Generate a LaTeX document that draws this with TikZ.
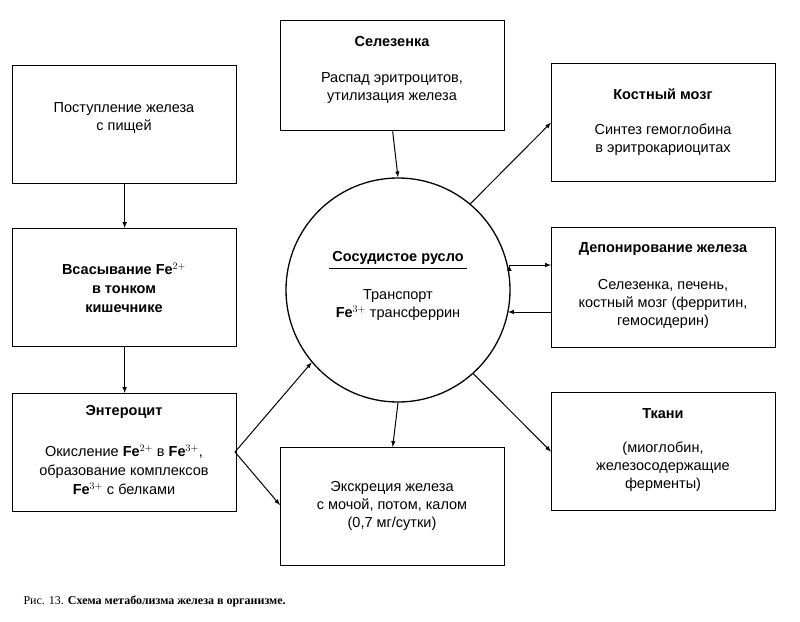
\documentclass[tikz,border=0pt]{standalone}
\usepackage{fontspec}
\setmainfont{Liberation Sans}
\newfontfamily\capfont{Liberation Serif}
\begin{document}
\begin{tikzpicture}[x=1pt,y=-1pt,
  box/.style={draw,line width=1.3pt,minimum width=224pt,minimum height=118pt,anchor=north west,inner sep=0pt},
  txt/.style={align=center,font=\fontsize{14.5}{18}\selectfont},
  arr/.style={-latex,line width=1pt}]
\useasboundingbox (0,0) rectangle (800,621);
\node[box] (food) at (12,65) {};
\node[txt] at (124,118) {Поступление железа\\с пищей};
\node[box] (abs) at (12,228) {};
\node[txt,font=\bfseries\fontsize{14.5}{19}\selectfont] at (124,288) {Всасывание Fe$^{2+}$\\в тонком\\кишечнике};
\node[box] (ent) at (12,393) {};
\node[txt,font=\bfseries\fontsize{14.5}{18}\selectfont] at (124,412) {Энтероцит};
\node[txt,font=\fontsize{14.5}{19}\selectfont] at (124,470) {Окисление \textbf{Fe}$^{2+}$ в \textbf{Fe}$^{3+}$,\\образование комплексов\\\textbf{Fe}$^{3+}$ с белками};
\node[box,minimum height=110pt] (sel) at (280,20) {};
\node[txt,font=\bfseries\fontsize{14.5}{18}\selectfont] at (392,42) {Селезенка};
\node[txt] at (392,88) {Распад эритроцитов,\\утилизация железа};
\node[box] (exc) at (280,447) {};
\node[txt] at (392,506) {Экскреция железа\\с мочой, потом, калом\\(0,7 мг/сутки)};
\node[box] (bm) at (551,63) {};
\node[txt,font=\bfseries\fontsize{14.5}{18}\selectfont] at (663,94) {Костный мозг};
\node[txt] at (663,140) {Синтез гемоглобина\\в эритрокариоцитах};
\node[box,minimum height=120pt] (dep) at (551,227) {};
\node[txt,font=\bfseries\fontsize{14.5}{18}\selectfont] at (663,249) {Депонирование железа};
\node[txt] at (663,304) {Селезенка, печень,\\костный мозг (ферритин,\\гемосидерин)};
\node[box] (tk) at (551,392) {};
\node[txt,font=\bfseries\fontsize{14.5}{18}\selectfont] at (663,414) {Ткани};
\node[txt] at (663,467) {(миоглобин,\\железосодержащие\\ферменты)};
\node[draw,circle,line width=1.3pt,minimum size=224pt,inner sep=0pt] (c) at (398,290) {};
\node[txt,font=\bfseries\fontsize{14.5}{18}\selectfont] (cs) at (398,258) {Сосудистое русло};
\draw[line width=1pt] (cs.south west) -- (cs.south east);
\node[txt] at (398,305) {Транспорт\\\textbf{Fe}$^{3+}$ трансферрин};
\draw[arr] (food.south) -- (abs.north);
\draw[arr] (abs.south) -- (ent.north);
\draw[arr] (sel.south) -- (c.north);
\draw[arr] (c.south) -- (exc.north);
\draw[arr] (c.50) -- (bm.west);
\draw[arr] (c.west |- 0,265) ++(224,0) coordinate (a1);
\draw[arr] (509,265) -- (dep.west |- 0,265);
\draw[arr] (dep.west |- 0,312) -- (508,312);
\draw[arr] (c.-48) -- (tk.west);
\coordinate (e) at (235,452);
\draw[arr] (e) -- (c.-140);
\draw[arr] (e) -- (exc.west |- 0,505);
\node[anchor=west,font=\capfont\fontsize{12}{14}\selectfont] (cap) at (20,601) {Рис. 13. \textbf{Схема метаболизма железа в организме.}};
\end{tikzpicture}
\end{document}
